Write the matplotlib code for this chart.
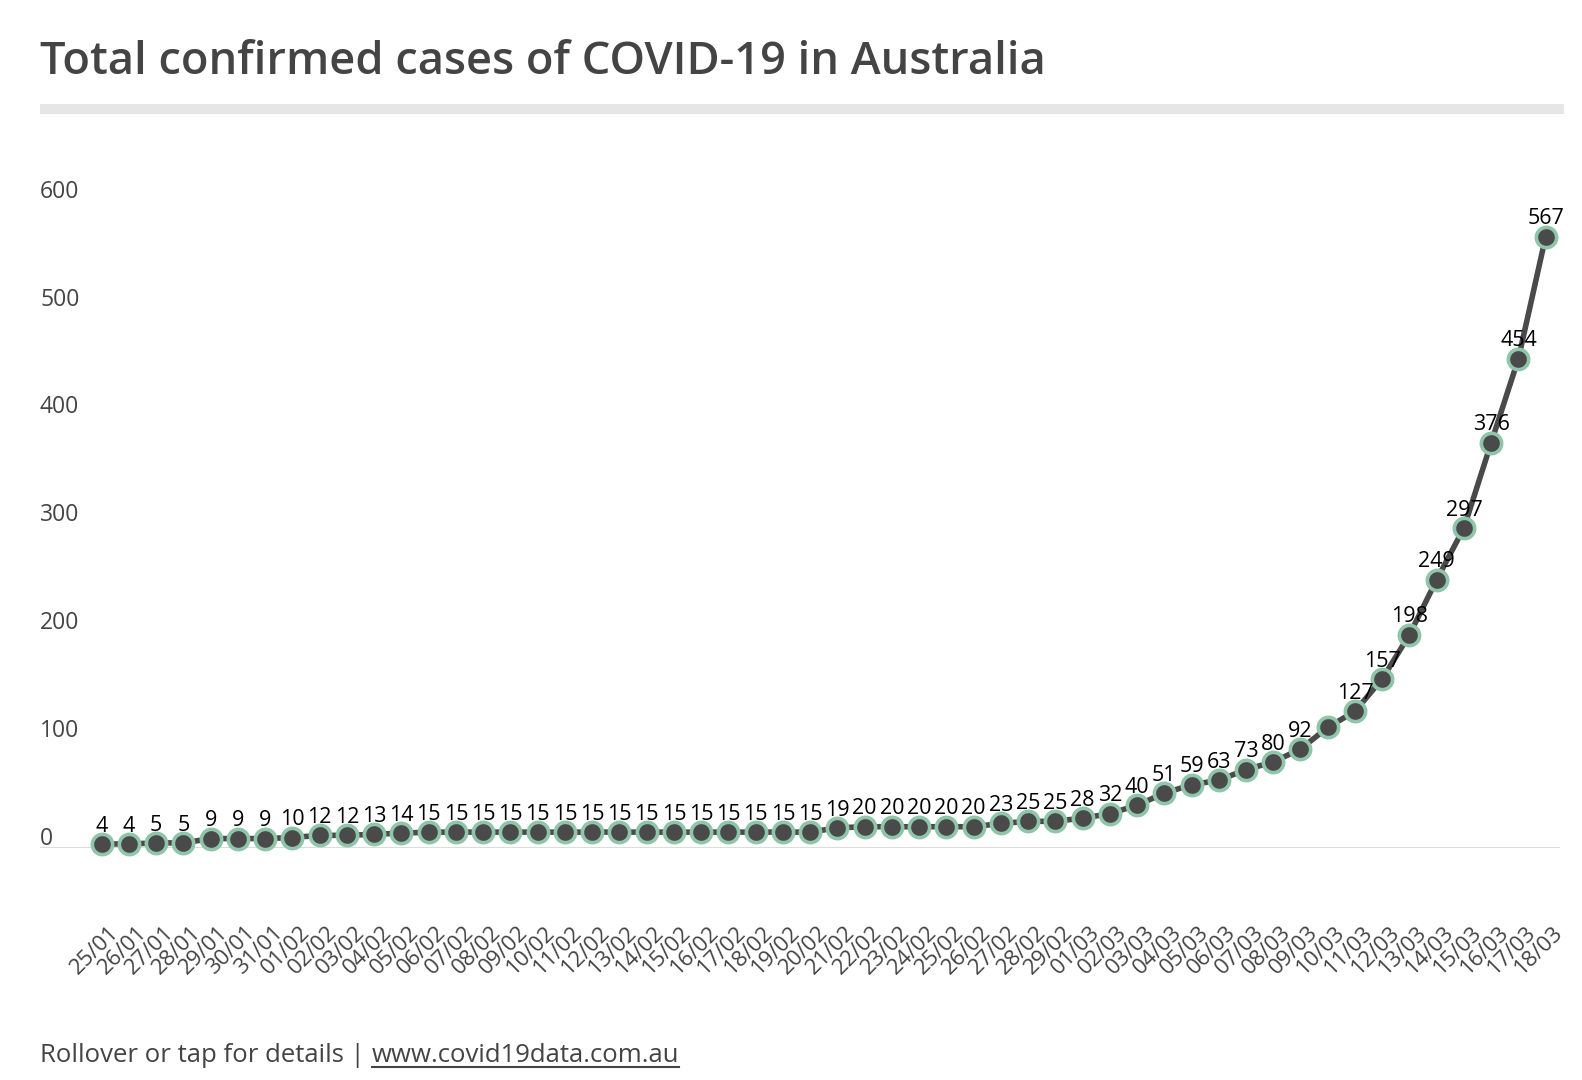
import matplotlib
matplotlib.use("Agg")
import matplotlib.pyplot as plt
from matplotlib.transforms import ScaledTranslation
from matplotlib.patches import Rectangle
from matplotlib.lines import Line2D

# ---------------- data ----------------
dates = ["25/01", "26/01", "27/01", "28/01", "29/01", "30/01", "31/01",
         "01/02", "02/02", "03/02", "04/02", "05/02", "06/02", "07/02", "08/02",
         "09/02", "10/02", "11/02", "12/02", "13/02", "14/02", "15/02", "16/02",
         "17/02", "18/02", "19/02", "20/02", "21/02", "22/02", "23/02", "24/02",
         "25/02", "26/02", "27/02", "28/02", "29/02",
         "01/03", "02/03", "03/03", "04/03", "05/03", "06/03", "07/03", "08/03",
         "09/03", "10/03", "11/03", "12/03", "13/03", "14/03", "15/03", "16/03",
         "17/03", "18/03"]
cases = [4, 4, 5, 5, 9, 9, 9,
         10, 12, 12, 13, 14, 15, 15, 15,
         15, 15, 15, 15, 15, 15, 15, 15,
         15, 15, 15, 15, 19, 20, 20, 20,
         20, 20, 23, 25, 25,
         28, 32, 40, 51, 59, 63, 73, 80,
         92, 112, 127, 157, 198, 249, 297, 376,
         454, 567]
hidden_labels = ["10/03"]
y_ticks = [0, 100, 200, 300, 400, 500, 600]

title = "Total confirmed cases of COVID-19 in Australia"
footer_text = "Rollover or tap for details | "
footer_link = "www.covid19data.com.au"

# ---------------- style ----------------
FONT = "Open Sans"
plt.rcParams["font.family"] = [FONT, "DejaVu Sans"]
TXT = "#444444"
LINE = "#4a4a4a"
EDGE = "#8fc6a9"

W, H = 1582, 1080
fig = plt.figure(figsize=(W / 100, H / 100), dpi=100)
fig.patch.set_facecolor("white")

ax_left, ax_right, ax_bottom, ax_top = 40, 1560, 848.3, 160
ax = fig.add_axes([ax_left / W, 1 - ax_bottom / H,
                   (ax_right - ax_left) / W, (ax_bottom - ax_top) / H])
x = list(range(len(dates)))
ax.set_xlim(-2.264, 53.525)
ax.set_ylim(0, 638)
for s in ax.spines.values():
    s.set_visible(False)
ax.set_facecolor("white")

ax.axhline(0, color="#dcdcdc", lw=1.5, zorder=1)

ax.plot(x, cases, color=LINE, lw=4, zorder=3, clip_on=False,
        solid_joinstyle="round", solid_capstyle="round")
ax.plot(x, cases, linestyle="none", marker="o", ms=14.6, mfc=LINE, mec=EDGE,
        mew=2.6, zorder=4, clip_on=False)

for xi, d, v in zip(x, dates, cases):
    if d in hidden_labels:
        continue
    ax.annotate(str(v), (xi, v), xytext=(0, 12.8), textcoords="offset points",
                ha="center", va="center", fontsize=15.5, color="black", zorder=5)

# x tick labels
ax.set_xticks(x)
ax.set_xticklabels(dates, rotation=45, ha="right", va="top",
                   rotation_mode="anchor", fontsize=16, color=TXT)
ax.tick_params(axis="x", length=0, pad=53)
for lbl in ax.get_xticklabels():
    lbl.set_transform(lbl.get_transform() + ScaledTranslation(7 / 100, 0, fig.dpi_scale_trans))

# y tick labels
ax.set_yticks(y_ticks)
ax.set_yticklabels([str(t) for t in y_ticks], fontsize=16.5, color=TXT, ha="left")
ax.tick_params(axis="y", length=0, pad=0)
for lbl in ax.get_yticklabels():
    lbl.set_transform(lbl.get_transform() + ScaledTranslation(0, 12.3 / 100, fig.dpi_scale_trans))

# title and bar
fig.text(40 / W, 1 - 74 / H, title, ha="left", va="baseline",
         fontsize=32.6, color=TXT, fontweight="semibold")
fig.add_artist(Rectangle((40 / W, 1 - 114 / H), (1564 - 40) / W, 10 / H,
                         transform=fig.transFigure, color="#e6e6e6", lw=0))

# footer
fy = 1 - 1062 / H
t1 = fig.text(40 / W, fy, footer_text, ha="left", va="baseline",
              fontsize=18.5, color=TXT)
fig.canvas.draw()
r = fig.canvas.get_renderer()
bb = t1.get_window_extent(r)
t2 = fig.text(bb.x1 / W, fy, footer_link, ha="left", va="baseline",
              fontsize=18.5, color=TXT)
uy = fy - 5 / H
bb2 = t2.get_window_extent(r)
fig.add_artist(Line2D([bb2.x0 / W, bb2.x1 / W], [uy, uy], transform=fig.transFigure,
                      color=TXT, lw=1.5))

fig.savefig("out.png", dpi=100, facecolor="white")
